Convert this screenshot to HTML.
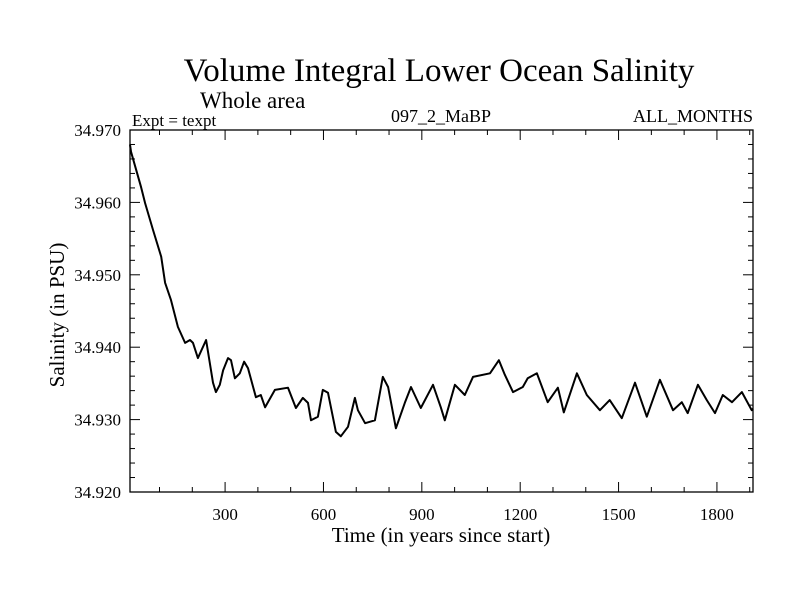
<!DOCTYPE html>
<html><head><meta charset="utf-8"><style>
html,body{margin:0;padding:0;background:#fff;}
svg{display:block;font-family:"Liberation Serif",serif;}
</style></head><body>
<svg id="chart" width="800" height="600" viewBox="0 0 800 600">
<text x="439" y="81" font-size="33" text-anchor="middle">Volume Integral Lower Ocean Salinity</text>
<text x="200" y="108" font-size="23">Whole area</text>
<text x="132" y="126" font-size="17">Expt = texpt</text>
<text x="441" y="122" font-size="18" text-anchor="middle">097_2_MaBP</text>
<text x="753" y="122" font-size="18" text-anchor="end">ALL_MONTHS</text>
<rect x="130" y="130" width="623" height="362" fill="none" stroke="#000" stroke-width="1.3"/>
<g id="ticks"></g>
<text x="441" y="542" font-size="21" text-anchor="middle">Time (in years since start)</text>
<text transform="translate(64,315) rotate(-90)" font-size="21" text-anchor="middle">Salinity (in PSU)</text>
<path id="line" fill="none" stroke="#000" stroke-width="2" stroke-linejoin="round"/>
</svg>
<script>
const years=[10,13,44,56,80,105,117,135,156,178,193,202,217,242,263,272,284,294,309,318,330,345,358,370,394,409,422,452,492,516,537,553,562,583,598,614,638,653,675,696,705,727,757,781,797,821,848,867,897,934,958,970,1001,1031,1056,1108,1135,1153,1178,1208,1223,1251,1284,1315,1333,1373,1403,1443,1473,1510,1550,1586,1626,1666,1693,1711,1742,1769,1794,1818,1846,1876,1906,1910];
const salinity=[34.968,34.967,34.9621,34.9599,34.9562,34.9525,34.9489,34.9465,34.9428,34.9406,34.941,34.9406,34.9385,34.941,34.9351,34.9338,34.9348,34.9368,34.9385,34.9382,34.9357,34.9364,34.938,34.9371,34.9331,34.9334,34.9317,34.9341,34.9344,34.9316,34.933,34.9323,34.9299,34.9304,34.9341,34.9337,34.9283,34.9277,34.929,34.933,34.9313,34.9295,34.9299,34.9359,34.9345,34.9288,34.9323,34.9345,34.9316,34.9348,34.9317,34.9299,34.9348,34.9334,34.9359,34.9364,34.9382,34.9362,34.9338,34.9345,34.9357,34.9364,34.9324,34.9344,34.931,34.9364,34.9334,34.9313,34.9327,34.9302,34.9351,34.9304,34.9355,34.9313,34.9324,34.9309,34.9348,34.9327,34.9309,34.9334,34.9324,34.9338,34.9313,34.9315];
const xTickLabels=[300,600,900,1200,1500,1800];
const yTickLabels=["34.920","34.930","34.940","34.950","34.960","34.970"];
const X0=10,X1=1910,Y0=34.920,Y1=34.970;
const L=130,R=753,T=130,B=492;
function xs(v){return L+(v-X0)/(X1-X0)*(R-L);}
function ys(v){return B-(v-Y0)/(Y1-Y0)*(B-T);}
const NS="http://www.w3.org/2000/svg";
const g=document.getElementById('ticks');
function ln(x1,y1,x2,y2,name){const e=document.createElementNS(NS,'line');e.setAttribute('x1',x1);e.setAttribute('y1',y1);e.setAttribute('x2',x2);e.setAttribute('y2',y2);e.setAttribute('stroke','#000');e.setAttribute('stroke-width','1');


g.appendChild(e);}
function tx(x,y,s,anchor,name){const e=document.createElementNS(NS,'text');e.setAttribute('x',x);e.setAttribute('y',y);e.setAttribute('font-size','17');e.setAttribute('text-anchor',anchor);e.textContent=s;


g.appendChild(e);}
for(let v=100;v<X1;v+=100){const x=xs(v);const major=v%300===0;const len=major?10:5;ln(x,B,x,B-len,'x-tick');ln(x,T,x,T+len,'x-tick-top');}
xTickLabels.forEach(v=>tx(xs(v),520,String(v),'middle','x-tick-label'));
for(let i=0;i<=25;i++){const v=Y0+i*0.002;const y=ys(v);const major=i%5===0;const len=major?10:5;ln(L,y,L+len,y,'y-tick');ln(R,y,R-len,y,'y-tick-right');}
yTickLabels.forEach(s=>tx(121,ys(parseFloat(s))+6,s,'end','y-tick-label'));
let d='';years.forEach((v,i)=>{d+=(i?'L':'M')+xs(v).toFixed(1)+','+ys(salinity[i]).toFixed(1);});
document.getElementById('line').setAttribute('d',d);
</script>
</body></html>
